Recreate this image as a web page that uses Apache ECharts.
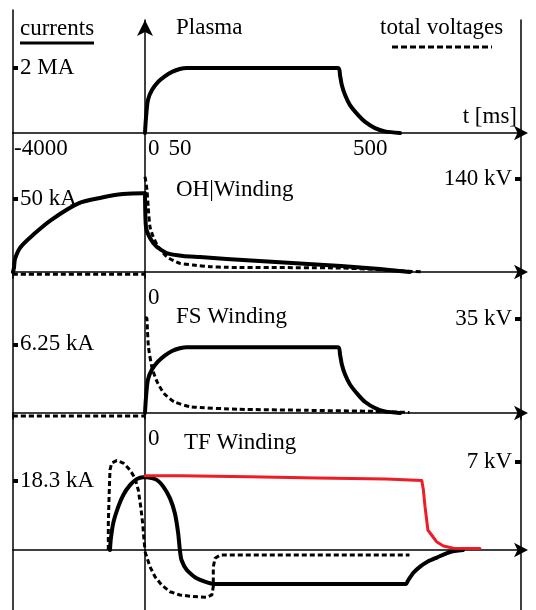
<!DOCTYPE html>
<html>
<head>
<meta charset="utf-8">
<script src="https://cdn.jsdelivr.net/npm/echarts@6/dist/echarts.min.js"></script>
<style>
  html, body { margin: 0; padding: 0; background: #fff; }
  #chart { width: 536px; height: 610px; }
</style>
</head>
<body>
<div id="chart"></div>
<script>
// Time in ms, currents in MA / kA, total voltages in kV.
const panelTitles = ['Plasma', 'OH|Winding', 'FS Winding', 'TF Winding'];
const currentTicks = [2, 50, 6.25, 18.3];
const currentUnits = ['MA', 'kA', 'kA', 'kA'];
const voltageTicks = [null, 140, 35, 7];
const negTimeTicks = [-4000];
const posTimeTicks = [0, 50, 500];

// Plasma current
const plasmaTime = [0, 2.4, 7.3, 17, 32, 49, 66, 85, 102, 471, 476, 480, 488, 500, 520, 537, 561, 585, 622];
const plasmaCurrent = [0, 0.46, 1.02, 1.32, 1.57, 1.75, 1.88, 1.97, 2.0, 2.0, 1.75, 1.48, 1.17, 0.86, 0.55, 0.34, 0.15, 0.05, 0];

// OH winding: pre-magnetisation, then discharge
const ohRampTime = [-4000, -3970, -3939, -3773, -3364, -2848, -2015, -1303, -667, -61, 0];
const ohRampCurrent = [0, 3, 9, 17, 26, 35.6, 47, 51, 53.4, 54, 54];
const ohBiasTime = [-4000, 0];
const ohBiasVoltage = [-3.5, -3.5];
const ohPulseTime = [0, 2.4, 12.2, 28.5, 53, 92.7, 134, 199, 478, 573, 646];
const ohPulseCurrent = [54, 30.8, 23.3, 17.3, 13, 11, 10.3, 8.9, 4.1, 2.05, 0];
const ohVoltTime = [0, 4.9, 8, 12.2, 20, 32.4, 53, 85, 118, 159, 199, 478, 634, 678];
const ohVoltage = [143.5, 123.5, 96, 68, 53, 38, 23, 13, 10.5, 8, 7, 6, 1.5, 0];

// FS winding
const fsBiasTime = [-4000, 0];
const fsBiasVoltage = [-1.1, -1.1];
const fsTime = [0, 2.4, 7.3, 17, 32, 49, 66, 85, 102, 471, 476, 480, 488, 500, 520, 537, 561, 585, 622];
const fsCurrent = [0, 1.4, 3.06, 3.96, 4.7, 5.25, 5.65, 5.9, 6.0, 6.0, 5.25, 4.45, 3.5, 2.6, 1.65, 1.0, 0.45, 0.15, 0];
const fsVoltTime = [0, 4.4, 5.9, 8.5, 17, 29, 46, 71, 112, 229, 395, 561, 645];
const fsVoltage = [35.5, 35.4, 31, 24.6, 17, 11.8, 7.4, 4.2, 2.3, 1.4, 1.0, 0.6, 0.2];

// TF winding
const tfRampTime = [-1061, -1039, -961, -809, -658, -455, -252, -52, 0];
const tfRampCurrent = [0, 2.65, 7.2, 11.5, 14.6, 17.2, 18.8, 19.3, 19.3];
const tfLoopTime = [-1112, -1112, -1082, -1061, -1009, -858, -658, -455, -303, -203, -130, -70, -30, 0];
const tfLoopVoltage = [0, 2.1, 4.76, 6.35, 6.9, 7.1, 6.9, 6.35, 5.7, 4.76, 3.44, 2.1, 0.8, 0];
const tfMainTime = [0, 4.1, 28.5, 44.6, 61, 73, 81, 85, 89, 102, 126, 167, 637, 641, 654, 671, 690, 712, 744, 776];
const tfMainCurrent = [19.3, 19.3, 18.6, 16.8, 13.7, 9.7, 4.4, 0, -2.65, -5.3, -7.5, -9.0, -9.0, -8.2, -6.1, -4.4, -3.05, -2.0, -0.53, 0];
const tfFlatTime = [0, 88, 88, 254, 254, 420, 420, 588, 588, 675, 679, 683, 687, 690, 699, 711, 728, 752, 817];
const tfFlatCurrent = [19.7, 19.7, 19.4, 19.4, 19.1, 19.1, 18.8, 18.8, 18.45, 18.45, 15.9, 11.5, 7.96, 5.3, 3.98, 2.2, 1.06, 0.45, 0.4];
const tfPulseTime = [0, 4.1, 12.2, 24.4, 40.7, 61, 85, 118, 150, 163, 166.6, 166.6, 171, 183, 645];
const tfPulseVoltage = [-0.13, -0.53, -1.33, -2.12, -2.78, -3.31, -3.57, -3.7, -3.75, -3.57, -2.9, -1.33, -0.66, -0.4, -0.4];

// ---- layout ----
const FONT = '"Liberation Serif", "DejaVu Serif", serif';
const FONT_SIZE = 23;
const LEFT = 13, ZERO_X = 145, RIGHT = 521;
const NEG_MIN = -4000;
const POS_PX_PER_MS = 0.41;
const POS_MAX = (RIGHT - ZERO_X) / POS_PX_PER_MS;

// vertical placement of each strip: grid tops, zero line, bottom, and pixels per unit
const strips = [
  { negTop: 10,  top: 20,  base: 133, bottom: 133, curPx: 32.5,  voltPx: 32.5 },
  { negTop: 133, top: 133, base: 272, bottom: 278, curPx: 1.46,  voltPx: 0.664 },
  { negTop: 272, top: 272, base: 413, bottom: 419, curPx: 10.97, voltPx: 2.68 },
  { negTop: 413, top: 413, base: 550, bottom: 610, curPx: 3.77,  voltPx: 12.6 }
];

const pairs = (ts, vs) => ts.map((t, i) => [t, vs[i]]);
const axisLineStyle = { color: '#000', width: 1.5 };
const labelFont = { fontFamily: FONT, fontSize: FONT_SIZE, color: '#000' };

const grid = [], xAxis = [], yAxis = [];

strips.forEach((s, p) => {
  grid.push({ left: LEFT, width: ZERO_X - LEFT, top: s.negTop, height: s.bottom - s.negTop,
              containLabel: false, outerBoundsMode: 'none' });
  grid.push({ left: ZERO_X, width: RIGHT - ZERO_X, top: s.top, height: s.bottom - s.top,
              containLabel: false, outerBoundsMode: 'none' });

  const range = (top, px) => ({ min: -(s.bottom - s.base) / px, max: (s.base - top) / px });

  // time axes
  xAxis.push({
    type: 'value', gridIndex: 2 * p, min: NEG_MIN, max: 0,
    axisLine: { show: true, onZero: true, lineStyle: axisLineStyle },
    axisTick: { show: false }, splitLine: { show: false },
    axisLabel: p === 0 ? Object.assign({
      show: true, customValues: negTimeTicks, align: 'left', margin: 4,
      padding: [0, 0, 0, 1], hideOverlap: false, formatter: v => String(v)
    }, labelFont) : { show: false }
  });
  xAxis.push({
    type: 'value', gridIndex: 2 * p + 1, min: 0, max: POS_MAX,
    axisLine: { show: true, onZero: true, lineStyle: axisLineStyle,
                symbol: ['none', 'arrow'], symbolSize: [11, 14], symbolOffset: [0, 7] },
    axisTick: { show: false }, splitLine: { show: false },
    axisLabel: Object.assign({
      show: true, customValues: p === 0 ? posTimeTicks : [0], align: 'left',
      margin: p === 1 || p === 2 ? 8 : 4, padding: [0, 0, 0, 3], hideOverlap: false,
      formatter: v => String(v)
    }, labelFont)
  });

  // current axis at the left border (labelled), hidden voltage axis for the pre-pulse strip
  const curTick = currentTicks[p];
  yAxis.push(Object.assign({
    type: 'value', gridIndex: 2 * p, position: 'left',
    axisLine: { show: true, onZero: false, lineStyle: axisLineStyle },
    axisTick: { show: true, inside: true, length: 5, customValues: [curTick], lineStyle: { color: '#000', width: 4 } },
    axisLabel: Object.assign({ show: true, inside: true, margin: 7, customValues: [curTick], hideOverlap: false,
                               formatter: v => v + ' ' + currentUnits[p] }, labelFont),
    splitLine: { show: false }
  }, range(s.negTop, s.curPx)));
  yAxis.push(Object.assign({ type: 'value', gridIndex: 2 * p, show: false, splitLine: { show: false } },
                           range(s.negTop, s.voltPx)));

  // current axis at t = 0 and voltage axis at the right border
  yAxis.push(Object.assign({
    type: 'value', gridIndex: 2 * p + 1, position: 'left',
    axisLine: { show: true, onZero: false, lineStyle: axisLineStyle,
                symbol: p === 0 ? ['none', 'arrow'] : ['none', 'none'], symbolSize: [12, 16] },
    axisTick: { show: false }, axisLabel: { show: false }, splitLine: { show: false }
  }, range(s.top, s.curPx)));
  const vTick = voltageTicks[p];
  yAxis.push(Object.assign({
    type: 'value', gridIndex: 2 * p + 1, position: 'right',
    axisLine: { show: true, onZero: false, lineStyle: axisLineStyle },
    axisTick: vTick == null ? { show: false } :
      { show: true, inside: true, length: 6, customValues: [vTick], lineStyle: { color: '#000', width: 4 } },
    axisLabel: vTick == null ? { show: false } :
      Object.assign({ show: true, inside: true, margin: 9, customValues: [vTick], hideOverlap: false,
                      formatter: v => v + ' kV' }, labelFont),
    splitLine: { show: false }
  }, range(s.top, s.voltPx)));
});

const solid = (data, xi, yi, extra) => Object.assign({
  type: 'line', data, xAxisIndex: xi, yAxisIndex: yi, showSymbol: false, symbol: 'none',
  silent: true, clip: false, smooth: 0.3,
  lineStyle: { color: '#000', width: 4, cap: 'round', join: 'round' }, z: 3
}, extra || {});
const dashed = (data, xi, yi, extra) => Object.assign({
  type: 'line', data, xAxisIndex: xi, yAxisIndex: yi, showSymbol: false, symbol: 'none',
  silent: true, clip: false, smooth: 0.2,
  lineStyle: { color: '#000', width: 3, type: [5, 3], cap: 'butt', join: 'round' }, z: 4
}, extra || {});

const series = [
  // Plasma
  solid(pairs(plasmaTime, plasmaCurrent), 1, 2),
  // OH
  solid(pairs(ohRampTime, ohRampCurrent), 2, 4),
  dashed(pairs(ohBiasTime, ohBiasVoltage), 2, 5),
  solid(pairs(ohPulseTime, ohPulseCurrent), 3, 6, { smooth: 0.2 }),
  dashed(pairs(ohVoltTime, ohVoltage), 3, 7),
  // FS
  dashed(pairs(fsBiasTime, fsBiasVoltage), 4, 9),
  solid(pairs(fsTime, fsCurrent), 5, 10),
  dashed(pairs(fsVoltTime, fsVoltage), 5, 11),
  // TF
  solid(pairs(tfRampTime, tfRampCurrent), 6, 12),
  dashed(pairs(tfLoopTime, tfLoopVoltage), 6, 13, { smooth: false }),
  solid(pairs(tfMainTime, tfMainCurrent), 7, 14, { smooth: 0.2 }),
  solid(pairs(tfFlatTime, tfFlatCurrent), 7, 14,
        { smooth: false, lineStyle: { color: '#ee1c24', width: 3, cap: 'round', join: 'round' }, z: 5 }),
  dashed(pairs(tfPulseTime, tfPulseVoltage), 7, 15, { smooth: false })
];

const titleY = [27.5, 189.5, 316.5, 443];
const titleX = [176, 176, 176, 184];
const text = (x, y, str, align) => ({
  type: 'text', x, y, silent: true,
  style: { text: str, font: `${FONT_SIZE}px ${FONT}`, fill: '#000', align: align || 'left', verticalAlign: 'middle' }
});

const graphic = [
  text(20, 28.5, 'currents'),
  { type: 'line', silent: true, shape: { x1: 20, y1: 43, x2: 94, y2: 43 }, style: { stroke: '#000', lineWidth: 3 } },
  text(380, 27.5, 'total voltages'),
  { type: 'line', silent: true, shape: { x1: 392, y1: 47, x2: 492, y2: 47 },
    style: { stroke: '#000', lineWidth: 3, lineDash: [6, 3] } },
  text(517, 117, 't [ms]', 'right')
].concat(panelTitles.map((t, i) => text(titleX[i], titleY[i], t)));

const chart = echarts.init(document.getElementById('chart'), null, { renderer: 'canvas' });
chart.setOption({
  animation: false,
  backgroundColor: '#fff',
  grid, xAxis, yAxis, series, graphic
});
</script>
</body>
</html>
